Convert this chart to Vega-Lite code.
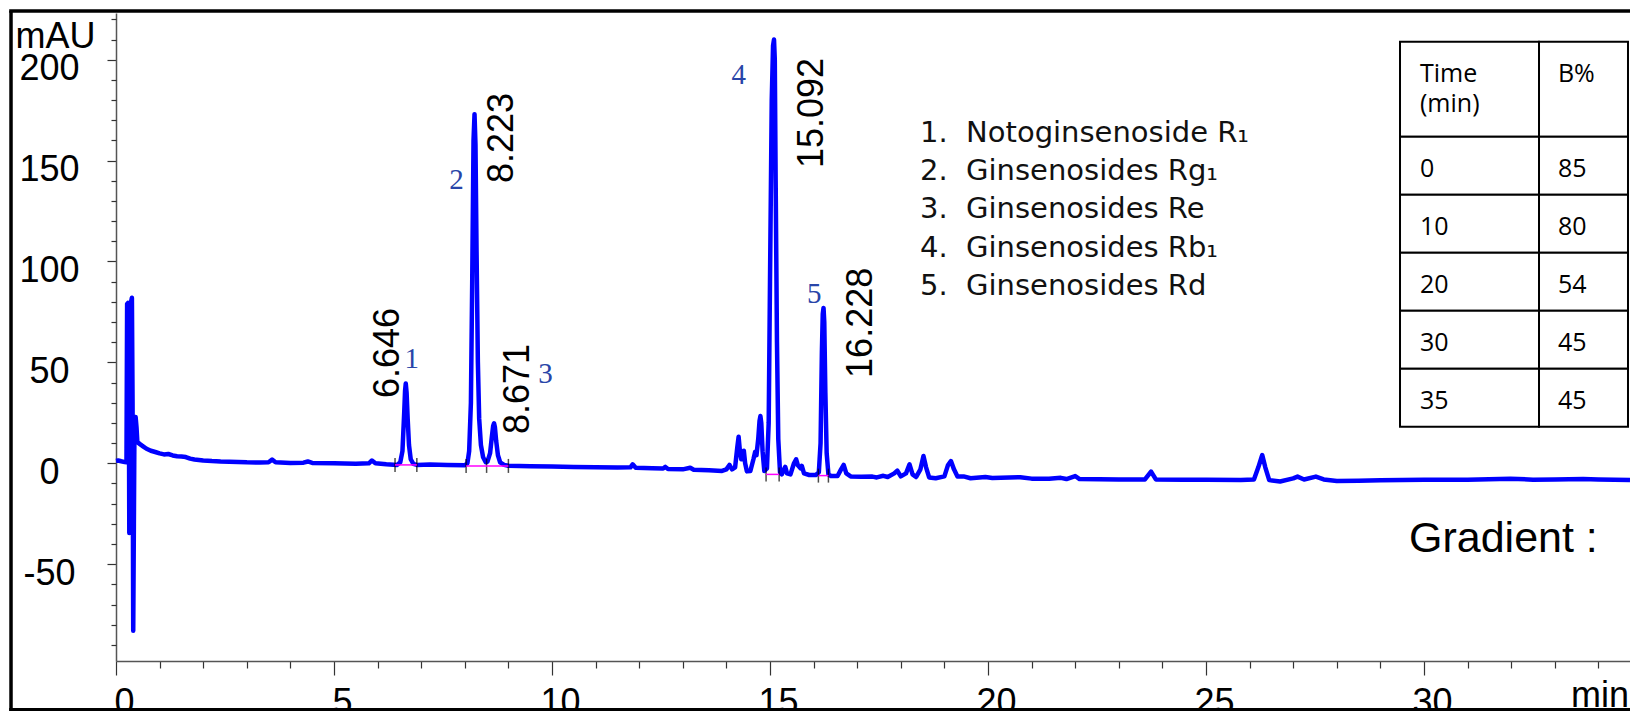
{
  "$schema": "https://vega.github.io/schema/vega-lite/v6.json",
  "width": 1514,
  "height": 648,
  "autosize": {"type": "none"},
  "padding": {"left": 116, "top": 13, "right": 0, "bottom": 50},
  "background": "white",
  "config": {"view": {"stroke": null}},
  "datasets": {
    "trace": [
      {"t":0,"v":1.2},{"t":0.05,"v":1.4},{"t":0.12,"v":1.0},{"t":0.2,"v":0.6},{"t":0.24,"v":0.5},
      {"t":0.255,"v":79},{"t":0.275,"v":79.5},{"t":0.29,"v":77},{"t":0.305,"v":-34.5},{"t":0.32,"v":4},
      {"t":0.345,"v":80},{"t":0.365,"v":82},{"t":0.38,"v":30},{"t":0.395,"v":-83},{"t":0.41,"v":-30},
      {"t":0.425,"v":23},{"t":0.45,"v":23},{"t":0.47,"v":18},{"t":0.49,"v":10.5},{"t":0.55,"v":9.5},
      {"t":0.62,"v":8.4},{"t":0.7,"v":7.2},{"t":0.8,"v":6.2},{"t":0.9,"v":5.6},{"t":1.0,"v":4.9},
      {"t":1.1,"v":4.4},{"t":1.2,"v":4.6},{"t":1.3,"v":3.9},{"t":1.4,"v":3.5},{"t":1.5,"v":3.4},
      {"t":1.6,"v":3.1},{"t":1.7,"v":2.3},{"t":1.8,"v":1.9},{"t":2.0,"v":1.4},{"t":2.2,"v":1.1},
      {"t":2.4,"v":0.9},{"t":2.6,"v":0.8},{"t":2.8,"v":0.7},{"t":3.0,"v":0.5},{"t":3.3,"v":0.4},
      {"t":3.5,"v":0.5},{"t":3.58,"v":1.8},{"t":3.66,"v":0.5},{"t":4.0,"v":0.2},{"t":4.3,"v":0.3},
      {"t":4.4,"v":0.9},{"t":4.5,"v":0.2},{"t":5.0,"v":0.0},{"t":5.5,"v":-0.2},{"t":5.8,"v":0.0},
      {"t":5.87,"v":1.4},{"t":5.95,"v":0.0},{"t":6.2,"v":-0.5},{"t":6.45,"v":-0.8},{"t":6.52,"v":0.5},
      {"t":6.57,"v":6},{"t":6.61,"v":25},{"t":6.63,"v":36},{"t":6.646,"v":39.6},{"t":6.665,"v":35},
      {"t":6.69,"v":22},{"t":6.72,"v":9},{"t":6.76,"v":2},{"t":6.82,"v":-0.3},{"t":6.9,"v":-0.8},
      {"t":7.2,"v":-0.6},{"t":7.6,"v":-0.8},{"t":8.0,"v":-1.0},{"t":8.06,"v":0},{"t":8.1,"v":6},
      {"t":8.14,"v":30},{"t":8.17,"v":90},{"t":8.2,"v":160},{"t":8.223,"v":173},{"t":8.245,"v":158},
      {"t":8.27,"v":105},{"t":8.3,"v":50},{"t":8.33,"v":22},{"t":8.37,"v":9},{"t":8.42,"v":3},
      {"t":8.48,"v":0.5},{"t":8.52,"v":0.8},{"t":8.58,"v":5},{"t":8.62,"v":13},{"t":8.65,"v":18.5},
      {"t":8.671,"v":19.8},{"t":8.69,"v":18},{"t":8.72,"v":11},{"t":8.76,"v":4},{"t":8.81,"v":0.5},
      {"t":8.9,"v":-0.8},{"t":9.0,"v":-1.2},{"t":9.5,"v":-1.5},{"t":10.0,"v":-1.6},{"t":10.5,"v":-1.8},
      {"t":11.0,"v":-1.9},{"t":11.5,"v":-2.1},{"t":11.8,"v":-2.0},{"t":11.85,"v":-0.5},{"t":11.92,"v":-2.2},
      {"t":12.3,"v":-2.5},{"t":12.55,"v":-2.6},{"t":12.6,"v":-1.8},{"t":12.66,"v":-2.8},{"t":13.0,"v":-3.0},
      {"t":13.17,"v":-2.2},{"t":13.25,"v":-3.2},{"t":13.6,"v":-3.5},{"t":13.9,"v":-3.8},{"t":14.0,"v":-3.0},
      {"t":14.07,"v":-0.8},{"t":14.13,"v":-3.0},{"t":14.2,"v":-2.0},{"t":14.25,"v":8},{"t":14.28,"v":13.2},
      {"t":14.31,"v":6},{"t":14.34,"v":2},{"t":14.37,"v":5.8},{"t":14.4,"v":6.2},{"t":14.43,"v":0},
      {"t":14.47,"v":-4},{"t":14.55,"v":-3.8},{"t":14.62,"v":2},{"t":14.66,"v":5.7},{"t":14.69,"v":4},
      {"t":14.73,"v":12},{"t":14.76,"v":21},{"t":14.78,"v":23.4},{"t":14.8,"v":20},{"t":14.83,"v":6},
      {"t":14.87,"v":-3.8},{"t":14.93,"v":-2.5},{"t":14.97,"v":20},{"t":15.0,"v":90},{"t":15.04,"v":180},
      {"t":15.07,"v":207},{"t":15.092,"v":210},{"t":15.11,"v":200},{"t":15.13,"v":140},{"t":15.16,"v":60},
      {"t":15.19,"v":12},{"t":15.23,"v":-4.5},{"t":15.27,"v":-5.5},{"t":15.32,"v":-3},{"t":15.35,"v":-1.8},
      {"t":15.39,"v":-5},{"t":15.47,"v":-5.5},{"t":15.55,"v":0},{"t":15.6,"v":2},{"t":15.64,"v":-1},
      {"t":15.7,"v":-2.5},{"t":15.73,"v":-1.3},{"t":15.78,"v":-5},{"t":15.9,"v":-5.8},{"t":16.05,"v":-5.8},
      {"t":16.12,"v":-4.5},{"t":16.16,"v":10},{"t":16.19,"v":55},{"t":16.21,"v":74},{"t":16.228,"v":77},
      {"t":16.245,"v":70},{"t":16.27,"v":35},{"t":16.3,"v":5},{"t":16.34,"v":-5.5},{"t":16.4,"v":-6.3},
      {"t":16.55,"v":-6.3},{"t":16.63,"v":-3},{"t":16.69,"v":-0.8},{"t":16.75,"v":-5},{"t":16.85,"v":-6.5},
      {"t":17.1,"v":-6.7},{"t":17.35,"v":-6.6},{"t":17.45,"v":-7},{"t":17.6,"v":-6.2},{"t":17.7,"v":-6.8},
      {"t":17.85,"v":-5},{"t":17.92,"v":-3.6},{"t":18.0,"v":-6.5},{"t":18.12,"v":-5},{"t":18.2,"v":-0.5},
      {"t":18.27,"v":-5.5},{"t":18.35,"v":-6.8},{"t":18.45,"v":-3},{"t":18.52,"v":3.6},{"t":18.58,"v":-2},
      {"t":18.65,"v":-7},{"t":18.8,"v":-7.4},{"t":19.0,"v":-6.5},{"t":19.08,"v":-1},{"t":19.15,"v":1.1},
      {"t":19.22,"v":-3},{"t":19.3,"v":-6.5},{"t":19.44,"v":-6.5},{"t":19.6,"v":-7.4},{"t":19.94,"v":-6.8},
      {"t":20.1,"v":-7.3},{"t":20.74,"v":-6.9},{"t":21.0,"v":-7.6},{"t":21.4,"v":-7.7},{"t":21.67,"v":-7.2},
      {"t":21.8,"v":-7.8},{"t":22.0,"v":-6.3},{"t":22.1,"v":-7.8},{"t":23.0,"v":-8.0},{"t":23.6,"v":-8.0},
      {"t":23.74,"v":-4.1},{"t":23.85,"v":-8.0},{"t":24.5,"v":-8.2},{"t":25.0,"v":-8.2},{"t":25.8,"v":-8.3},
      {"t":26.1,"v":-8.0},{"t":26.2,"v":-2},{"t":26.29,"v":4.1},{"t":26.36,"v":-2},{"t":26.45,"v":-8.3},
      {"t":26.7,"v":-9.0},{"t":27.0,"v":-7.5},{"t":27.1,"v":-6.6},{"t":27.25,"v":-8},{"t":27.52,"v":-6.6},
      {"t":27.7,"v":-8},{"t":28.0,"v":-8.8},{"t":28.5,"v":-8.6},{"t":29.0,"v":-8.4},{"t":29.5,"v":-8.3},
      {"t":30.0,"v":-8.2},{"t":31.0,"v":-8.1},{"t":31.98,"v":-7.6},{"t":32.5,"v":-8.1},{"t":33.0,"v":-8.0},
      {"t":33.65,"v":-7.8},{"t":34.0,"v":-8.0},{"t":34.725,"v":-8.3}
    ],
    "peaks": [
      {"no":"1","rt":6.646,"h":39.6},
      {"no":"2","rt":8.223,"h":173},
      {"no":"3","rt":8.671,"h":19.8},
      {"no":"4","rt":15.092,"h":210},
      {"no":"5","rt":16.228,"h":77}
    ],
    "integration": [
      {"t1":6.40,"t2":6.90,"v":-0.8},
      {"t1":8.03,"t2":9.00,"v":-1.3},
      {"t1":14.91,"t2":15.21,"v":-5.5},
      {"t1":16.11,"t2":16.34,"v":-6.1}
    ],
    "events": [
      {"t":6.40,"v":-0.8},{"t":6.90,"v":-0.8},
      {"t":8.03,"v":-1.3},{"t":8.50,"v":-1.3},{"t":9.00,"v":-1.3},
      {"t":14.91,"v":-5.5},{"t":15.21,"v":-5.5},
      {"t":16.11,"v":-6.1},{"t":16.34,"v":-6.1}
    ],
    "gradient": [
      {"time":0,"b":85},{"time":10,"b":80},{"time":20,"b":54},{"time":30,"b":45},{"time":35,"b":45}
    ]
  },
  "resolve": {"scale": {"y": "independent"}},
  "layer": [
    {
      "resolve": {"axis": {"y": "independent"}},
      "layer": [
        {
          "layer": [
            {
              "data": {"name": "trace"},
              "mark": {"type": "line", "color": "#0000ff", "strokeWidth": 4.5, "strokeJoin": "round"},
              "encoding": {
                "x": {
                  "field": "t", "type": "quantitative",
                  "scale": {"domain": [0, 34.725], "nice": false, "zero": false},
                  "axis": {
                    "title": null, "grid": false,
                    "values": [0,1,2,3,4,5,6,7,8,9,10,11,12,13,14,15,16,17,18,19,20,21,22,23,24,25,26,27,28,29,30,31,32,33,34],
                    "labelExpr": "datum.value % 5 === 0 ? toString(datum.value) : (datum.value === 34 ? 'min' : '')",
                    "tickSize": {"condition": {"test": "datum.value % 5 === 0", "value": 14}, "value": 7},
                    "labelOffset": {"condition": {"test": "datum.value === 34", "value": 1}, "value": 8},
                    "labelPadding": 10, "labelFont": "Liberation Sans", "labelFontSize": 36, "labelColor": "black",
                    "labelOverlap": false, "labelFlush": false, "labelBound": false,
                    "domainColor": "#555555", "domainWidth": 1.5, "tickColor": "#333333", "tickWidth": 1.2
                  }
                },
                "y": {
                  "field": "v", "type": "quantitative",
                  "scale": {"domain": [-97.97, 223.14], "nice": false, "zero": false},
                  "axis": {
                    "orient": "left",
                    "title": "mAU", "titleAngle": 0, "titleX": -61, "titleY": 34, "titleAlign": "center",
                    "titleBaseline": "alphabetic", "titleFont": "Liberation Sans", "titleFontSize": 36,
                    "titleFontWeight": "normal", "titleColor": "black", "grid": false,
                    "values": [-50, 0, 50, 100, 150, 200],
                    "labelExpr": "toString(datum.value)",
                    "tickSize": 9,
                    "labelAlign": "center", "labelBaseline": "middle", "labelOffset": 9, "labelPadding": 58,
                    "labelFont": "Liberation Sans", "labelFontSize": 36, "labelColor": "black",
                    "labelOverlap": false, "labelFlush": false, "labelBound": false,
                    "domainColor": "#555555", "domainWidth": 1.5, "tickColor": "#333333", "tickWidth": 1.2
                  }
                }
              }
            },
            {
              "data": {"name": "events"},
              "mark": {"type": "tick", "orient": "vertical", "color": "black", "size": 14, "thickness": 1.5},
              "encoding": {
                "x": {"field": "t", "type": "quantitative"},
                "y": {"field": "v", "type": "quantitative"}
              }
            },
            {
              "data": {"name": "peaks"},
              "transform": [{"filter": "datum.no === '1'"}],
              "mark": {"type": "text", "angle": 270, "align": "left", "baseline": "alphabetic", "dx": -14.6, "dy": -6.8, "font": "Liberation Sans", "fontSize": 36, "color": "black"},
              "encoding": {"x": {"field": "rt", "type": "quantitative"}, "y": {"field": "h", "type": "quantitative"}, "text": {"field": "rt", "type": "quantitative", "format": ".3f"}}
            },
            {
              "data": {"name": "peaks"},
              "transform": [{"filter": "datum.no === '2'"}],
              "mark": {"type": "text", "angle": 270, "align": "left", "baseline": "alphabetic", "dx": -68.8, "dy": 38.5, "font": "Liberation Sans", "fontSize": 36, "color": "black"},
              "encoding": {"x": {"field": "rt", "type": "quantitative"}, "y": {"field": "h", "type": "quantitative"}, "text": {"field": "rt", "type": "quantitative", "format": ".3f"}}
            },
            {
              "data": {"name": "peaks"},
              "transform": [{"filter": "datum.no === '3'"}],
              "mark": {"type": "text", "angle": 270, "align": "left", "baseline": "alphabetic", "dx": -10.7, "dy": 34.9, "font": "Liberation Sans", "fontSize": 36, "color": "black"},
              "encoding": {"x": {"field": "rt", "type": "quantitative"}, "y": {"field": "h", "type": "quantitative"}, "text": {"field": "rt", "type": "quantitative", "format": ".3f"}}
            },
            {
              "data": {"name": "peaks"},
              "transform": [{"filter": "datum.no === '4'"}],
              "mark": {"type": "text", "angle": 270, "align": "left", "baseline": "alphabetic", "dx": -128.5, "dy": 49, "font": "Liberation Sans", "fontSize": 36, "color": "black"},
              "encoding": {"x": {"field": "rt", "type": "quantitative"}, "y": {"field": "h", "type": "quantitative"}, "text": {"field": "rt", "type": "quantitative", "format": ".3f"}}
            },
            {
              "data": {"name": "peaks"},
              "transform": [{"filter": "datum.no === '5'"}],
              "mark": {"type": "text", "angle": 270, "align": "left", "baseline": "alphabetic", "dx": -70, "dy": 48.5, "font": "Liberation Sans", "fontSize": 36, "color": "black"},
              "encoding": {"x": {"field": "rt", "type": "quantitative"}, "y": {"field": "h", "type": "quantitative"}, "text": {"field": "rt", "type": "quantitative", "format": ".3f"}}
            },
            {
              "data": {"name": "peaks"},
              "transform": [{"filter": "datum.no === '1'"}],
              "mark": {"type": "text", "align": "center", "baseline": "alphabetic", "dx": 5.9, "dy": -15.1, "font": "Liberation Serif", "fontSize": 29, "color": "#2845a8"},
              "encoding": {"x": {"field": "rt", "type": "quantitative"}, "y": {"field": "h", "type": "quantitative"}, "text": {"field": "no"}}
            },
            {
              "data": {"name": "peaks"},
              "transform": [{"filter": "datum.no === '2'"}],
              "mark": {"type": "text", "align": "center", "baseline": "alphabetic", "dx": -18, "dy": 74.8, "font": "Liberation Serif", "fontSize": 29, "color": "#2845a8"},
              "encoding": {"x": {"field": "rt", "type": "quantitative"}, "y": {"field": "h", "type": "quantitative"}, "text": {"field": "no"}}
            },
            {
              "data": {"name": "peaks"},
              "transform": [{"filter": "datum.no === '3'"}],
              "mark": {"type": "text", "align": "center", "baseline": "alphabetic", "dx": 51.4, "dy": -40.3, "font": "Liberation Serif", "fontSize": 29, "color": "#2845a8"},
              "encoding": {"x": {"field": "rt", "type": "quantitative"}, "y": {"field": "h", "type": "quantitative"}, "text": {"field": "no"}}
            },
            {
              "data": {"name": "peaks"},
              "transform": [{"filter": "datum.no === '4'"}],
              "mark": {"type": "text", "align": "center", "baseline": "alphabetic", "dx": -35.2, "dy": 44.5, "font": "Liberation Serif", "fontSize": 29, "color": "#2845a8"},
              "encoding": {"x": {"field": "rt", "type": "quantitative"}, "y": {"field": "h", "type": "quantitative"}, "text": {"field": "no"}}
            },
            {
              "data": {"name": "peaks"},
              "transform": [{"filter": "datum.no === '5'"}],
              "mark": {"type": "text", "align": "center", "baseline": "alphabetic", "dx": -9.2, "dy": -5.2, "font": "Liberation Serif", "fontSize": 29, "color": "#2845a8"},
              "encoding": {"x": {"field": "rt", "type": "quantitative"}, "y": {"field": "h", "type": "quantitative"}, "text": {"field": "no"}}
            },
            {
              "data": {"values": [{}]},
              "mark": {"type": "text", "align": "left", "baseline": "alphabetic", "font": "DejaVu Sans", "fontSize": 29, "color": "#111111", "lineBreak": "\n", "lineHeight": 38.3,
                       "text": "1.\u00a0\u00a0Notoginsenoside R₁\n2.\u00a0\u00a0Ginsenosides Rg₁\n3.\u00a0\u00a0Ginsenosides Re\n4.\u00a0\u00a0Ginsenosides Rb₁\n5.\u00a0\u00a0Ginsenosides Rd"},
              "encoding": {"x": {"datum": 18.44}, "y": {"datum": 159.36}}
            },
            {
              "data": {"values": [{}]},
              "mark": {"type": "text", "align": "left", "baseline": "alphabetic", "font": "Liberation Sans", "fontSize": 43, "color": "black", "text": "Gradient :"},
              "encoding": {"x": {"datum": 29.656}, "y": {"datum": -43.8}}
            },
            {
              "data": {"values": [{}]},
              "mark": {"type": "rect", "fill": "white", "stroke": "black", "strokeWidth": 2},
              "encoding": {"x": {"datum": 29.45}, "x2": {"datum": 32.638}, "y": {"datum": 208.92}, "y2": {"datum": 161.84}}
            },
            {
              "data": {"values": [{}]},
              "mark": {"type": "rect", "fill": "white", "stroke": "black", "strokeWidth": 2},
              "encoding": {"x": {"datum": 32.638}, "x2": {"datum": 34.679}, "y": {"datum": 208.92}, "y2": {"datum": 161.84}}
            },
            {
              "data": {"values": [{}]},
              "mark": {"type": "text", "align": "left", "baseline": "alphabetic", "font": "Open Sans", "fontSize": 25, "color": "black", "lineBreak": "\n", "lineHeight": 30, "text": "Time\n(min)"},
              "encoding": {"x": {"datum": 29.908}, "y": {"datum": 188.8}}
            },
            {
              "data": {"values": [{}]},
              "mark": {"type": "text", "align": "left", "baseline": "alphabetic", "font": "Open Sans", "fontSize": 25, "color": "black", "text": "B%"},
              "encoding": {"x": {"datum": 33.073}, "y": {"datum": 188.8}}
            },
            {
              "data": {"values": [{}]},
              "mark": {"type": "rule", "color": "black", "strokeWidth": 3.5},
              "encoding": {"x": {"datum": -2.408}, "y": {"datum": 224.13}, "y2": {"datum": -123}}
            },
            {
              "data": {"values": [{}]},
              "mark": {"type": "rule", "color": "black", "strokeWidth": 3.5},
              "encoding": {"x": {"datum": -2.45}, "x2": {"datum": 35}, "y": {"datum": 224.13}}
            },
            {
              "data": {"values": [{}]},
              "mark": {"type": "rule", "color": "black", "strokeWidth": 3},
              "encoding": {"x": {"datum": -2.45}, "x2": {"datum": 35}, "y": {"datum": -122.0}}
            }
          ]
        },
        {
          "data": {"name": "integration"},
          "mark": {"type": "rule", "color": "#ff00ff", "strokeWidth": 1.5},
          "encoding": {
            "x": {"field": "t1", "type": "quantitative"},
            "x2": {"field": "t2"},
            "y": {
              "field": "v", "type": "quantitative",
              "axis": {
                "orient": "left", "title": null, "grid": false, "domain": false, "labels": false,
                "values": [-90,-80,-70,-60,-40,-30,-20,-10,10,20,30,40,60,70,80,90,110,120,130,140,160,170,180,190,210,220],
                "tickSize": 5, "tickColor": "#333333", "tickWidth": 1.2
              }
            }
          }
        }
      ]
    },
    {
      "data": {"name": "gradient"},
      "encoding": {
        "y": {"field": "time", "type": "ordinal", "axis": null,
              "scale": {"type": "band", "range": [123.7, 413.7], "paddingInner": 0, "paddingOuter": 0}}
      },
      "layer": [
        {
          "mark": {"type": "rect", "fill": "white", "stroke": "black", "strokeWidth": 2},
          "encoding": {"x": {"datum": 29.45}, "x2": {"datum": 32.638}}
        },
        {
          "mark": {"type": "rect", "fill": "white", "stroke": "black", "strokeWidth": 2},
          "encoding": {"x": {"datum": 32.638}, "x2": {"datum": 34.679}}
        },
        {
          "mark": {"type": "text", "align": "left", "baseline": "alphabetic", "dy": 11.5, "font": "Open Sans", "fontSize": 25, "color": "black"},
          "encoding": {"x": {"datum": 29.908}, "text": {"field": "time"}}
        },
        {
          "mark": {"type": "text", "align": "left", "baseline": "alphabetic", "dy": 11.5, "font": "Open Sans", "fontSize": 25, "color": "black"},
          "encoding": {"x": {"datum": 33.073}, "text": {"field": "b"}}
        }
      ]
    }
  ]
}
